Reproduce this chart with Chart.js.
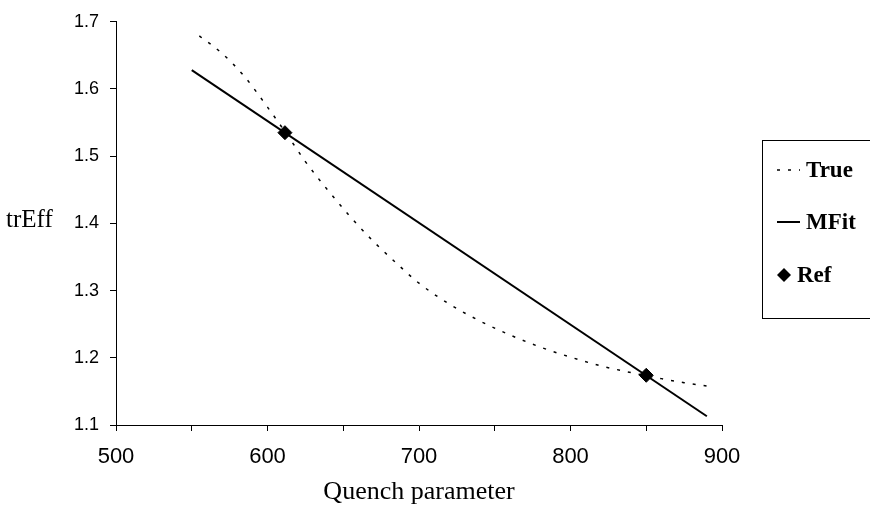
<!DOCTYPE html>
<html>
<head>
<meta charset="UTF-8">
<title>trEff vs Quench parameter</title>
<style>
  body { margin: 0; padding: 0; background: #fff; }
  canvas { display: block; }
</style>
</head>
<body>
<canvas id="chart" width="870" height="517"></canvas>
<script src="https://cdn.jsdelivr.net/npm/chart.js"></script>
<script>
// values
const trueX = [555, 570, 585, 600, 612, 625, 640, 655, 670, 685, 700, 720, 740, 760, 780, 800, 820, 840, 860, 875, 890];
const trueY = [1.679, 1.653, 1.618, 1.573, 1.535, 1.492, 1.449, 1.409, 1.373, 1.341, 1.311, 1.280, 1.255, 1.234, 1.216, 1.201, 1.188, 1.178, 1.169, 1.163, 1.158];
const fitX = [550, 890];
const fitY = [1.628, 1.113];
const refX = [611.5, 850];
const refY = [1.535, 1.174];
const seriesNames = ['True', 'MFit', 'Ref'];
const xRange = [500, 900];
const yRange = [1.1, 1.7];

function pts(xs, ys) {
  return xs.map((x, i) => ({ x: x, y: ys[i] }));
}

// horizontal y title, x title and the boxed legend on the right
const extras = {
  id: 'extras',
  afterDraw(chart) {
    const ctx = chart.ctx;
    const area = chart.chartArea;
    ctx.save();
    ctx.fillStyle = '#000';
    ctx.textBaseline = 'middle';
    ctx.font = '25px "Liberation Serif", serif';
    ctx.textAlign = 'left';
    ctx.fillText('trEff', 6, 220);
    ctx.font = '26px "Liberation Serif", serif';
    ctx.textAlign = 'center';
    ctx.fillText('Quench parameter', (area.left + area.right) / 2, 492);

    // legend box
    ctx.strokeStyle = '#000';
    ctx.lineWidth = 1;
    ctx.strokeRect(762.5, 140.5, 120, 178);
    const rows = [170, 222, 275];
    ctx.font = 'bold 23px "Liberation Serif", serif';
    ctx.textAlign = 'left';
    chart.data.datasets.forEach((ds, i) => {
      const y = rows[i];
      if (ds.showLine) {
        ctx.beginPath();
        ctx.lineWidth = ds.borderWidth;
        ctx.setLineDash(ds.borderDash || []);
        ctx.moveTo(777, y);
        ctx.lineTo(800, y);
        ctx.stroke();
        ctx.setLineDash([]);
      } else {
        ctx.beginPath();
        ctx.moveTo(784, y - 7);
        ctx.lineTo(791, y);
        ctx.lineTo(784, y + 7);
        ctx.lineTo(777, y);
        ctx.closePath();
        ctx.fill();
      }
      ctx.fillText(ds.label, i === 2 ? 797 : 806, y + 1);
    });
    ctx.restore();
  }
};

new Chart(document.getElementById('chart'), {
  type: 'scatter',
  data: {
    datasets: [
      {
        label: seriesNames[0],
        data: pts(trueX, trueY),
        showLine: true,
        borderColor: '#000',
        borderWidth: 1.5,
        borderDash: [3, 8],
        cubicInterpolationMode: 'monotone',
        pointRadius: 0
      },
      {
        label: seriesNames[1],
        data: pts(fitX, fitY),
        showLine: true,
        borderColor: '#000',
        borderWidth: 2,
        pointRadius: 0
      },
      {
        label: seriesNames[2],
        data: pts(refX, refY),
        showLine: false,
        pointStyle: 'rectRot',
        pointRadius: 7,
        backgroundColor: '#000',
        borderColor: '#000'
      }
    ]
  },
  options: {
    responsive: false,
    animation: false,
    devicePixelRatio: 1,
    layout: { padding: { top: 18, right: 148, left: 0, bottom: 0 } },
    plugins: { legend: { display: false }, tooltip: { enabled: false } },
    scales: {
      x: {
        min: xRange[0],
        max: xRange[1],
        border: { display: true, color: '#000', width: 1 },
        grid: { drawOnChartArea: false, color: '#000', tickLength: 6 },
        ticks: {
          stepSize: 50,
          color: '#000',
          padding: 13,
          maxRotation: 0,
          autoSkip: false,
          font: { family: '"Liberation Sans", Arial, sans-serif', size: 22 },
          callback: v => (v % 100 === 0 ? v : '')
        },
        afterFit(scale) { scale.height = 92; }
      },
      y: {
        min: yRange[0],
        max: yRange[1],
        border: { display: true, color: '#000', width: 1 },
        grid: { drawOnChartArea: false, color: '#000', tickLength: 6 },
        ticks: {
          stepSize: 0.1,
          color: '#000',
          padding: 11,
          font: { family: '"Liberation Sans", Arial, sans-serif', size: 18 },
          callback: v => Number(v).toFixed(1)
        },
        afterFit(scale) { scale.width = 116; }
      }
    }
  },
  plugins: [extras]
});
</script>
</body>
</html>
